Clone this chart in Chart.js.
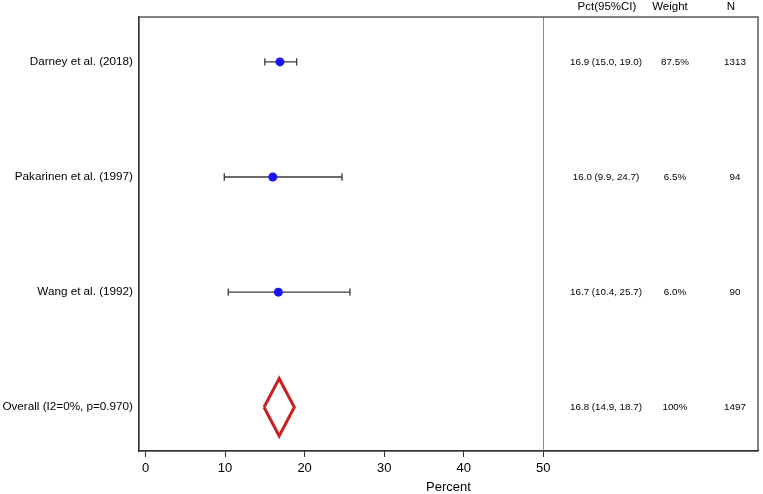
<!DOCTYPE html>
<html>
<head>
<meta charset="utf-8">
<script src="https://cdn.jsdelivr.net/npm/chart.js@4/dist/chart.umd.min.js"></script>
<style>
  html, body { margin: 0; padding: 0; background: #fff; }
  #wrap { width: 763px; height: 494px; }
</style>
</head>
<body>
<div id="wrap"><canvas id="c" width="763" height="494"></canvas></div>
<script>
// ---- data ----
const studies = ["Darney et al. (2018)", "Pakarinen et al. (1997)", "Wang et al. (1992)"];
const overallLabel = "Overall (I2=0%, p=0.970)";
const est = [16.9, 16.0, 16.7];
const lower = [15.0, 9.9, 10.4];
const upper = [19.0, 24.7, 25.7];
const weights = ["87.5%", "6.5%", "6.0%"];
const nums = ["1313", "94", "90"];
const overallEst = 16.8, overallLo = 14.9, overallHi = 18.7;
const overallWeight = "100%", overallN = "1497";
const xTicks = [0, 10, 20, 30, 40, 50];
const refLine = 50;
const headers = ["Pct(95%CI)", "Weight", "N"];

const rowLabels = studies.concat([overallLabel]);
const rowPos = rowLabels.map((_, i) => i + 1);
const fmt = (e, l, h) => e.toFixed(1) + " (" + l.toFixed(1) + ", " + h.toFixed(1) + ")";
const tableRows = studies.map((s, i) => [fmt(est[i], lower[i], upper[i]), weights[i], nums[i]])
  .concat([[fmt(overallEst, overallLo, overallHi), overallWeight, overallN]]);

const FONT = "'Liberation Sans', Arial, Helvetica, sans-serif";
const capH = 0.032;
const dHalf = 0.25;

const datasets = [];
// whiskers + caps
studies.forEach((s, i) => {
  const y = rowPos[i];
  const common = { showLine: true, pointRadius: 0, borderColor: '#3a3a3a', borderWidth: 1.3, tension: 0, order: 2 };
  datasets.push(Object.assign({ data: [{ x: lower[i], y }, { x: upper[i], y }] }, common));
  datasets.push(Object.assign({ data: [{ x: lower[i], y: y - capH }, { x: lower[i], y: y + capH }] }, common));
  datasets.push(Object.assign({ data: [{ x: upper[i], y: y - capH }, { x: upper[i], y: y + capH }] }, common));
});
// points
datasets.push({
  data: est.map((v, i) => ({ x: v, y: rowPos[i] })),
  showLine: false, pointRadius: 4.5, pointBackgroundColor: '#1a14f0', pointBorderColor: '#1a14f0', pointBorderWidth: 0, order: 1
});
// diamond
const oy = rowPos[3];
datasets.push({
  data: [
    { x: overallLo, y: oy }, { x: overallEst, y: oy - dHalf },
    { x: overallHi, y: oy }, { x: overallEst, y: oy + dHalf }, { x: overallLo, y: oy }
  ],
  showLine: true, pointRadius: 0, borderColor: '#cc1f1f', borderWidth: 3, tension: 0,
  borderJoinStyle: 'miter', fill: false, order: 1
});

const overlay = {
  id: 'overlay',
  beforeDatasetsDraw(chart) {
    const { ctx, chartArea: a, scales } = chart;
    const x = scales.x.getPixelForValue(refLine);
    ctx.save();
    ctx.strokeStyle = '#8a8a8a';
    ctx.lineWidth = 1;
    ctx.beginPath();
    ctx.moveTo(Math.round(x) + 0.5, a.top);
    ctx.lineTo(Math.round(x) + 0.5, a.bottom);
    ctx.stroke();
    ctx.restore();
  },
  afterDraw(chart) {
    const { ctx, chartArea: a, scales } = chart;
    ctx.save();
    ctx.strokeStyle = '#333';
    ctx.lineWidth = 1.2;
    ctx.strokeRect(a.left, a.top, a.right - a.left, a.bottom - a.top);
    ctx.fillStyle = '#000';
    ctx.textAlign = 'center';
    ctx.textBaseline = 'middle';
    const hx = [607, 670, 731];
    ctx.font = "11.5px " + FONT;
    headers.forEach((h, j) => ctx.fillText(h, hx[j], 7));
    const cx = [606, 675, 735];
    ctx.font = "9.8px " + FONT;
    tableRows.forEach((r, i) => {
      const y = scales.y.getPixelForValue(rowPos[i]);
      r.forEach((t, j) => ctx.fillText(t, cx[j], y));
    });
    ctx.restore();
  }
};

new Chart(document.getElementById('c'), {
  type: 'scatter',
  data: { datasets },
  options: {
    responsive: false,
    animation: false,
    layout: { padding: { top: 17, right: 5, left: 0, bottom: 0 } },
    plugins: { legend: { display: false }, tooltip: { enabled: false } },
    scales: {
      x: {
        type: 'linear', min: -0.82, max: 77,
        afterBuildTicks: s => { s.ticks = xTicks.map(v => ({ value: v })); },
        afterFit: s => { s.height = 43; },
        grid: { display: true, drawOnChartArea: false, drawTicks: true, tickLength: 6, color: '#333', tickWidth: 1 },
        border: { display: true, color: '#333', width: 1.2 },
        ticks: { color: '#000', font: { size: 13, family: FONT }, padding: 4, maxRotation: 0 },
        title: { display: true, text: 'Percent', color: '#000', font: { size: 13, family: FONT }, padding: { top: 0, bottom: -1 } }
      },
      y: {
        type: 'linear', min: 0.61, max: 4.38, reverse: true,
        afterBuildTicks: s => { s.ticks = rowPos.map(v => ({ value: v })); },
        afterFit: s => { s.width = 139; },
        grid: { display: false, drawTicks: false },
        border: { display: true, color: '#333', width: 1.2 },
        ticks: {
          color: '#000', font: { size: 11.7, family: FONT }, padding: 6,
          callback: v => rowLabels[rowPos.indexOf(v)] || ''
        }
      }
    }
  },
  plugins: [overlay]
});
</script>
</body>
</html>
